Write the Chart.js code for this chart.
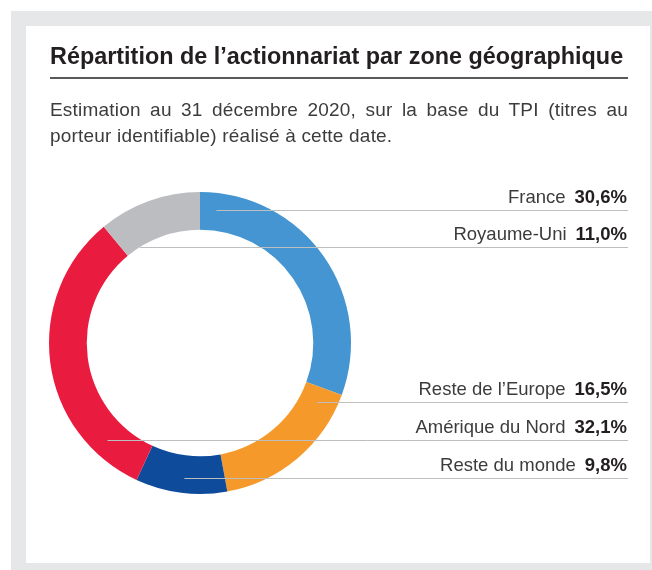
<!DOCTYPE html>
<html lang="fr">
<head>
<meta charset="utf-8">
<script src="https://cdn.jsdelivr.net/npm/chart.js@4.4.1/dist/chart.umd.min.js"></script>
<style>
  html, body { margin: 0; padding: 0; background: #fff; }
  body { width: 652px; height: 570px; position: relative; overflow: hidden; font-family: "Liberation Sans", Arial, sans-serif; }
  .frame { position: absolute; left: 11px; top: 11px; width: 641px; height: 559px; background: #e6e7e9; }
  .panel { position: absolute; left: 26px; top: 26px; width: 624px; height: 537px; background: #fff; }
  #chart { position: absolute; left: 0; top: 0; }
  h1 { position: absolute; left: 50px; top: 43px; width: 578px; margin: 0; padding-bottom: 8px;
       font-size: 23.4px; font-weight: bold; color: #231f20; border-bottom: 2px solid #58595b; line-height: 26px; white-space: nowrap; }
  .sub { position: absolute; left: 50px; top: 97px; width: 578px; margin: 0;
         font-size: 19px; letter-spacing: 0.2px; line-height: 26px; color: #3c3c3c; }
  .sub .l1 { display: block; text-align: justify; text-align-last: justify; }
</style>
</head>
<body>
<div class="frame"></div>
<div class="panel"></div>
<canvas id="chart" width="652" height="570"></canvas>
<h1>Répartition de l’actionnariat par zone géographique</h1>
<div class="sub"><span class="l1">Estimation au 31 décembre 2020, sur la base du TPI (titres au</span>porteur identifiable) réalisé à cette date.</div>
<script>
// clockwise from 12 o'clock
const zones = ["France", "Reste de l’Europe", "Reste du monde", "Amérique du Nord", "Royaume-Uni"];
const shares = [30.6, 16.5, 9.8, 32.1, 11.0];
const colors = ["#4495d1", "#f6992b", "#0e4c9b", "#e91c40", "#bcbdc0"];

// leader line layout: row y, radius fraction inside the ring, side of the ring
const leaders = [
  { row: 210, frac: 0.55, side: 1 },
  { row: 402, frac: 0.47, side: 1 },
  { row: 478, frac: 0.6, side: -1 },
  { row: 440, frac: 0.55, side: -1 },
  { row: 247, frac: 0, side: -1 }
];
const labelRight = 628;

const fmt = v => v.toFixed(1).replace(".", ",") + "%";

const leaderPlugin = {
  id: "leaders",
  afterDraw(chart) {
    const ctx = chart.ctx;
    const arcs = chart.getDatasetMeta(0).data;
    ctx.save();
    arcs.forEach((arc, i) => {
      const l = leaders[i];
      const r = arc.innerRadius + l.frac * (arc.outerRadius - arc.innerRadius);
      const dy = l.row - arc.y;
      const dx = Math.sqrt(Math.max(r * r - dy * dy, 0));
      const x0 = arc.x + l.side * dx;
      ctx.strokeStyle = "#bdbec0";
      ctx.lineWidth = 1;
      ctx.beginPath();
      ctx.moveTo(x0, l.row + 0.5);
      ctx.lineTo(labelRight, l.row + 0.5);
      ctx.stroke();

      const val = fmt(shares[i]);
      ctx.textBaseline = "alphabetic";
      ctx.textAlign = "right";
      ctx.fillStyle = "#231f20";
      ctx.font = "bold 18.5px 'Liberation Sans', Arial, sans-serif";
      ctx.fillText(val, labelRight - 1, l.row - 7);
      const vw = ctx.measureText(val).width;
      ctx.fillStyle = "#3c3c3c";
      ctx.font = "18.5px 'Liberation Sans', Arial, sans-serif";
      ctx.fillText(zones[i], labelRight - 1 - vw - 9, l.row - 7);
    });
    ctx.restore();
  }
};

new Chart(document.getElementById("chart"), {
  type: "doughnut",
  data: {
    labels: zones,
    datasets: [{ data: shares, backgroundColor: colors, borderWidth: 0 }]
  },
  options: {
    responsive: false,
    animation: false,
    cutout: "75%",
    layout: { padding: { left: 49, top: 192, right: 301, bottom: 76 } },
    plugins: { legend: { display: false }, tooltip: { enabled: false } }
  },
  plugins: [leaderPlugin]
});
</script>
</body>
</html>
